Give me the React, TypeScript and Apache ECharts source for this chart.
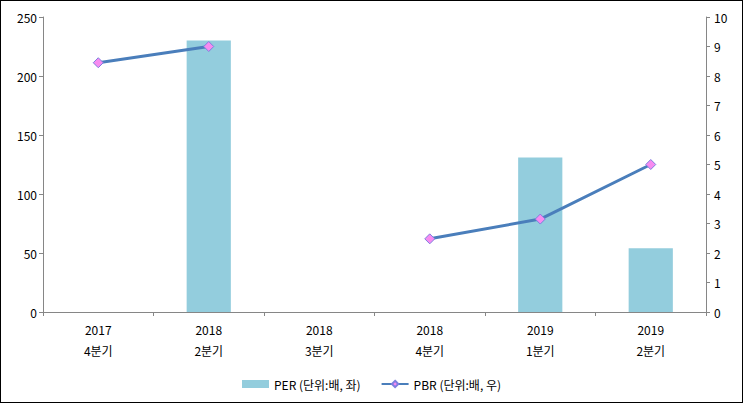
import React, { useEffect, useRef } from "react";
import * as echarts from "echarts";

const categories = ["2017\n4분기", "2018\n2분기", "2018\n3분기", "2018\n4분기", "2019\n1분기", "2019\n2분기"];
const perValues: (number | null)[] = [null, 230, null, null, 131, 54];
const pbrValues: (number | null)[] = [8.45, 9.0, null, 2.48, 3.15, 5.0];
const perName = "PER (단위:배, 좌)";
const pbrName = "PBR (단위:배, 우)";

const FONT = "'Noto Sans CJK KR', 'DejaVu Sans', sans-serif";

export default function App() {
  const ref = useRef<HTMLDivElement>(null);
  useEffect(() => {
    if (!ref.current) return;
    const chart = echarts.init(ref.current, undefined, { renderer: "svg" });
    const axisLine = { show: true, lineStyle: { color: "#868686", width: 1 } };
    const axisTick = { show: true, length: 4, lineStyle: { color: "#868686" } };
    chart.setOption({
      animation: false,
      backgroundColor: "#ffffff",
      textStyle: { fontFamily: FONT },
      grid: { left: 42, right: 36, top: 16, bottom: 90, containLabel: false },
      legend: {
        top: 372,
        left: "center",
        itemWidth: 27,
        itemHeight: 8,
        itemGap: 20,
        textStyle: { fontFamily: FONT, fontSize: 12, color: "#000" },
        data: [
          { name: perName, icon: "rect" },
          { name: pbrName },
        ],
      },
      xAxis: {
        type: "category",
        data: categories,
        boundaryGap: true,
        axisLine,
        axisTick: { ...axisTick, alignWithLabel: false },
        axisLabel: { color: "#000", fontSize: 12, fontFamily: FONT, lineHeight: 21, margin: 7 },
        splitLine: { show: false },
      },
      yAxis: [
        {
          type: "value",
          min: 0,
          max: 250,
          interval: 50,
          axisLine,
          axisTick,
          splitLine: { show: false },
          axisLabel: { color: "#000", fontSize: 12, fontFamily: FONT, margin: 6 },
        },
        {
          type: "value",
          min: 0,
          max: 10,
          interval: 1,
          position: "right",
          axisLine,
          axisTick,
          splitLine: { show: false },
          axisLabel: { color: "#000", fontSize: 12, fontFamily: FONT, margin: 8 },
        },
      ],
      series: [
        {
          name: perName,
          type: "bar",
          data: perValues,
          yAxisIndex: 0,
          barWidth: "40%",
          itemStyle: { color: "#93CDDD" },
        },
        {
          name: pbrName,
          type: "line",
          data: pbrValues,
          yAxisIndex: 1,
          connectNulls: false,
          symbol: "diamond",
          symbolSize: 10,
          lineStyle: { color: "#4A7EBB", width: 3 },
          itemStyle: { color: "#F78BF0", borderColor: "#7E7EDF", borderWidth: 1 },
        },
      ],
    });
    return () => chart.dispose();
  }, []);
  return (
    <div
      style={{
        position: "absolute",
        left: 0,
        top: 0,
        width: 743,
        height: 403,
        border: "1px solid #000",
        boxSizing: "border-box",
        background: "#fff",
      }}
    >
      <div ref={ref} style={{ width: 741, height: 401 }} />
    </div>
  );
}
